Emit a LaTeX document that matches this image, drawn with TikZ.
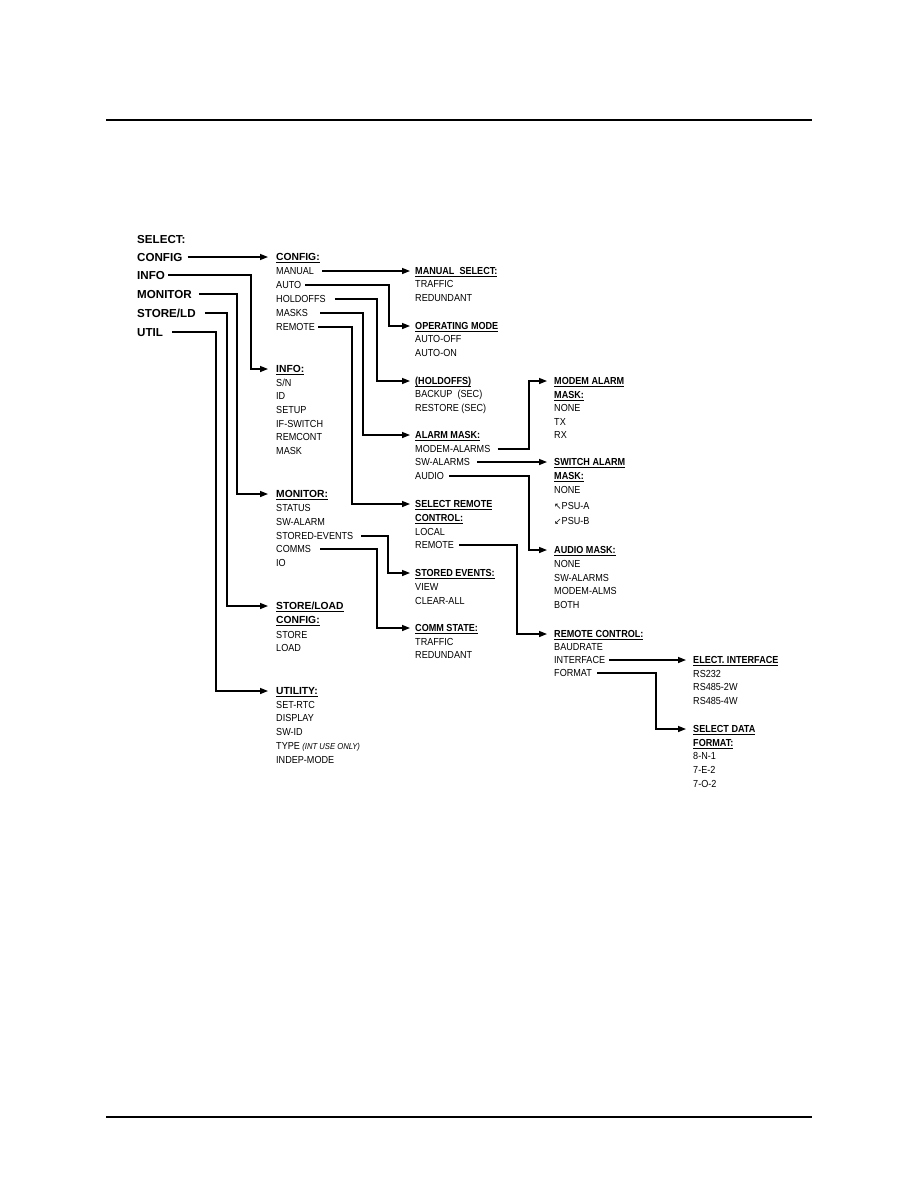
\documentclass[tikz,border=0pt]{standalone}
\usepackage{fontspec}
\setmainfont[FakeStretch=0.89]{Liberation Sans}
\newfontfamily\widefont{Liberation Sans}
\newfontfamily\symfont{DejaVu Sans}
\usetikzlibrary{arrows.meta}
\newcommand\myul[1]{\setbox0=\hbox{#1}\rlap{\rule[-2pt]{\wd0}{0.9pt}}\box0}
\tikzset{
  txt/.style={anchor=west, inner sep=0pt, text height=7.3pt, text depth=0pt},
  lft/.style={anchor=west, inner sep=0pt, text height=8.3pt, text depth=0pt, font=\widefont\bfseries\fontsize{11.6}{13}\selectfont},
  hdA/.style={txt, font=\widefont\bfseries\fontsize{10.3}{12}\selectfont},
  hdB/.style={txt, font=\bfseries\fontsize{10.2}{12}\selectfont},
  itm/.style={txt, font=\fontsize{10.2}{12}\selectfont},
  conn/.style={line width=1.4pt},
  arr/.style={conn, -{Triangle[length=8pt,width=6pt]}},
  rulex/.style={line width=1.3pt}
}
\begin{document}
\begin{tikzpicture}[x=1pt,y=-1pt]
\useasboundingbox (0,0) rectangle (918,1188);
\fill[white] (0,0) rectangle (918,1188);
\draw[rulex] (106,120) -- (812,120);
\draw[rulex] (106,1117) -- (812,1117);
% left column
\node[lft] (l-select) at (137,239) {SELECT:};
\node[lft] (l-config) at (137,257) {CONFIG};
\node[lft] (l-info) at (137,275) {INFO};
\node[lft] (l-mon) at (137,294) {MONITOR};
\node[lft] (l-store) at (137,313) {STORE/LD};
\node[lft] (l-util) at (137,332) {UTIL};
% column 2
\node[hdA] (h-config) at (276,257) {\myul{CONFIG:}};
\node[itm] (c-manual) at (276,271) {MANUAL};
\node[itm] (c-auto) at (276,285) {AUTO};
\node[itm] (c-hold) at (276,299) {HOLDOFFS};
\node[itm] (c-masks) at (276,313) {MASKS};
\node[itm] (c-remote) at (276,327) {REMOTE};
\node[hdA] (h-info) at (276,369) {\myul{INFO:}};
\node[itm] (i-sn) at (276,383) {S/N};
\node[itm] (i-id) at (276,396) {ID};
\node[itm] (i-setup) at (276,410) {SETUP};
\node[itm] (i-ifsw) at (276,424) {IF-SWITCH};
\node[itm] (i-remc) at (276,437) {REMCONT};
\node[itm] (i-mask) at (276,451) {MASK};
\node[hdA] (h-mon) at (276,494) {\myul{MONITOR:}};
\node[itm] (m-status) at (276,508) {STATUS};
\node[itm] (m-swal) at (276,522) {SW-ALARM};
\node[itm] (m-stored) at (276,536) {STORED-EVENTS};
\node[itm] (m-comms) at (276,549) {COMMS};
\node[itm] (m-io) at (276,563) {IO};
\node[hdA] (h-store) at (276,606) {\myul{STORE/LOAD}};
\node[hdA] (h-store2) at (276,620) {\myul{CONFIG:}};
\node[itm] (s-store) at (276,635) {STORE};
\node[itm] (s-load) at (276,648) {LOAD};
\node[hdA] (h-util) at (276,691) {\myul{UTILITY:}};
\node[itm] (u-rtc) at (276,705) {SET-RTC};
\node[itm] (u-disp) at (276,718) {DISPLAY};
\node[itm] (u-swid) at (276,732) {SW-ID};
\node[itm] (u-type) at (276,746) {TYPE {\itshape\fontsize{8.6}{10}\selectfont (INT USE ONLY)}};
\node[itm] (u-indep) at (276,760) {INDEP-MODE};
% column 3
\node[hdB] (h-man) at (415,271) {\myul{MANUAL\ \ SELECT:}};
\node[itm] (ms-traffic) at (415,284) {TRAFFIC};
\node[itm] (ms-red) at (415,298) {REDUNDANT};
\node[hdB] (h-op) at (415,326) {\myul{OPERATING MODE}};
\node[itm] (op-off) at (415,339) {AUTO-OFF};
\node[itm] (op-on) at (415,353) {AUTO-ON};
\node[hdB] (h-hold) at (415,381) {\myul{(HOLDOFFS)}};
\node[itm] (ho-back) at (415,394) {BACKUP\ \ (SEC)};
\node[itm] (ho-rest) at (415,408) {RESTORE (SEC)};
\node[hdB] (h-alarm) at (415,435) {\myul{ALARM MASK:}};
\node[itm] (a-modem) at (415,449) {MODEM-ALARMS};
\node[itm] (a-sw) at (415,462) {SW-ALARMS};
\node[itm] (a-audio) at (415,476) {AUDIO};
\node[hdB] (h-selrem) at (415,504) {\myul{SELECT REMOTE}};
\node[hdB] (h-selrem2) at (415,518) {\myul{CONTROL:}};
\node[itm] (sr-local) at (415,532) {LOCAL};
\node[itm] (sr-remote) at (415,545) {REMOTE};
\node[hdB] (h-stored) at (415,573) {\myul{STORED EVENTS:}};
\node[itm] (se-view) at (415,587) {VIEW};
\node[itm] (se-clear) at (415,601) {CLEAR-ALL};
\node[hdB] (h-comm) at (415,628) {\myul{COMM STATE:}};
\node[itm] (cs-traffic) at (415,642) {TRAFFIC};
\node[itm] (cs-red) at (415,655) {REDUNDANT};
% column 4
\node[hdB] (h-modem) at (554,381) {\myul{MODEM ALARM}};
\node[hdB] (h-modem2) at (554,395) {\myul{MASK:}};
\node[itm] (mm-none) at (554,408) {NONE};
\node[itm] (mm-tx) at (554,422) {TX};
\node[itm] (mm-rx) at (554,435) {RX};
\node[hdB] (h-switch) at (554,462) {\myul{SWITCH ALARM}};
\node[hdB] (h-switch2) at (554,476) {\myul{MASK:}};
\node[itm] (sw-none) at (554,490) {NONE};
\node[itm] (sw-a) at (554,506) {{\symfont\fontsize{9}{10}\selectfont ↖}PSU-A};
\node[itm] (sw-b) at (554,521) {{\symfont\fontsize{9}{10}\selectfont ↙}PSU-B};
\node[hdB] (h-audio) at (554,550) {\myul{AUDIO MASK:}};
\node[itm] (au-none) at (554,564) {NONE};
\node[itm] (au-sw) at (554,578) {SW-ALARMS};
\node[itm] (au-modem) at (554,591) {MODEM-ALMS};
\node[itm] (au-both) at (554,605) {BOTH};
\node[hdB] (h-rc) at (554,634) {\myul{REMOTE CONTROL:}};
\node[itm] (rc-baud) at (554,647) {BAUDRATE};
\node[itm] (rc-intf) at (554,660) {INTERFACE};
\node[itm] (rc-fmt) at (554,673) {FORMAT};
% column 5
\node[hdB] (h-elect) at (693,660) {\myul{ELECT. INTERFACE}};
\node[itm] (el-232) at (693,674) {RS232};
\node[itm] (el-2w) at (693,687) {RS485-2W};
\node[itm] (el-4w) at (693,701) {RS485-4W};
\node[hdB] (h-fmt) at (693,729) {\myul{SELECT DATA}};
\node[hdB] (h-fmt2) at (693,743) {\myul{FORMAT:}};
\node[itm] (f-1) at (693,756) {8-N-1};
\node[itm] (f-2) at (693,770) {7-E-2};
\node[itm] (f-3) at (693,784) {7-O-2};
% connectors: left column -> column 2
\draw[arr] ([xshift=5pt]l-config.east) -- ([xshift=-8pt]h-config.west);
\draw[arr] ([xshift=3pt]l-info.east) -- (251,0 |- l-info) |- ([xshift=-8pt]h-info.west);
\draw[arr] ([xshift=7pt]l-mon.east) -- (237,0 |- l-mon) |- ([xshift=-8pt]h-mon.west);
\draw[arr] ([xshift=9pt]l-store.east) -- (227,0 |- l-store) |- ([xshift=-8pt]h-store.west);
\draw[arr] ([xshift=9pt]l-util.east) -- (216,0 |- l-util) |- ([xshift=-8pt]h-util.west);
% column 2 -> column 3
\draw[arr] ([xshift=8pt]c-manual.east) -- ([xshift=-5pt]h-man.west);
\draw[arr] ([xshift=4pt]c-auto.east) -- (389,0 |- c-auto) |- ([xshift=-5pt]h-op.west);
\draw[arr] ([xshift=9pt]c-hold.east) -- (377,0 |- c-hold) |- ([xshift=-5pt]h-hold.west);
\draw[arr] ([xshift=12pt]c-masks.east) -- (363,0 |- c-masks) |- ([xshift=-5pt]h-alarm.west);
\draw[arr] ([xshift=3pt]c-remote.east) -- (352,0 |- c-remote) |- ([xshift=-5pt]h-selrem.west);
\draw[arr] ([xshift=8pt]m-stored.east) -- (388,0 |- m-stored) |- ([xshift=-5pt]h-stored.west);
\draw[arr] ([xshift=9pt]m-comms.east) -- (377,0 |- m-comms) |- ([xshift=-5pt]h-comm.west);
% column 3 -> column 4
\draw[arr] ([xshift=7pt]a-modem.east) -- (529,0 |- a-modem) |- ([xshift=-7pt]h-modem.west);
\draw[arr] ([xshift=7pt]a-sw.east) -- ([xshift=-7pt]h-switch.west);
\draw[arr] ([xshift=5pt]a-audio.east) -- (529,0 |- a-audio) |- ([xshift=-7pt]h-audio.west);
\draw[arr] ([xshift=5pt]sr-remote.east) -- (517,0 |- sr-remote) |- ([xshift=-7pt]h-rc.west);
% column 4 -> column 5
\draw[arr] ([xshift=4pt]rc-intf.east) -- ([xshift=-7pt]h-elect.west);
\draw[arr] ([xshift=5pt]rc-fmt.east) -- (656,0 |- rc-fmt) |- ([xshift=-7pt]h-fmt.west);
\end{tikzpicture}
\end{document}
